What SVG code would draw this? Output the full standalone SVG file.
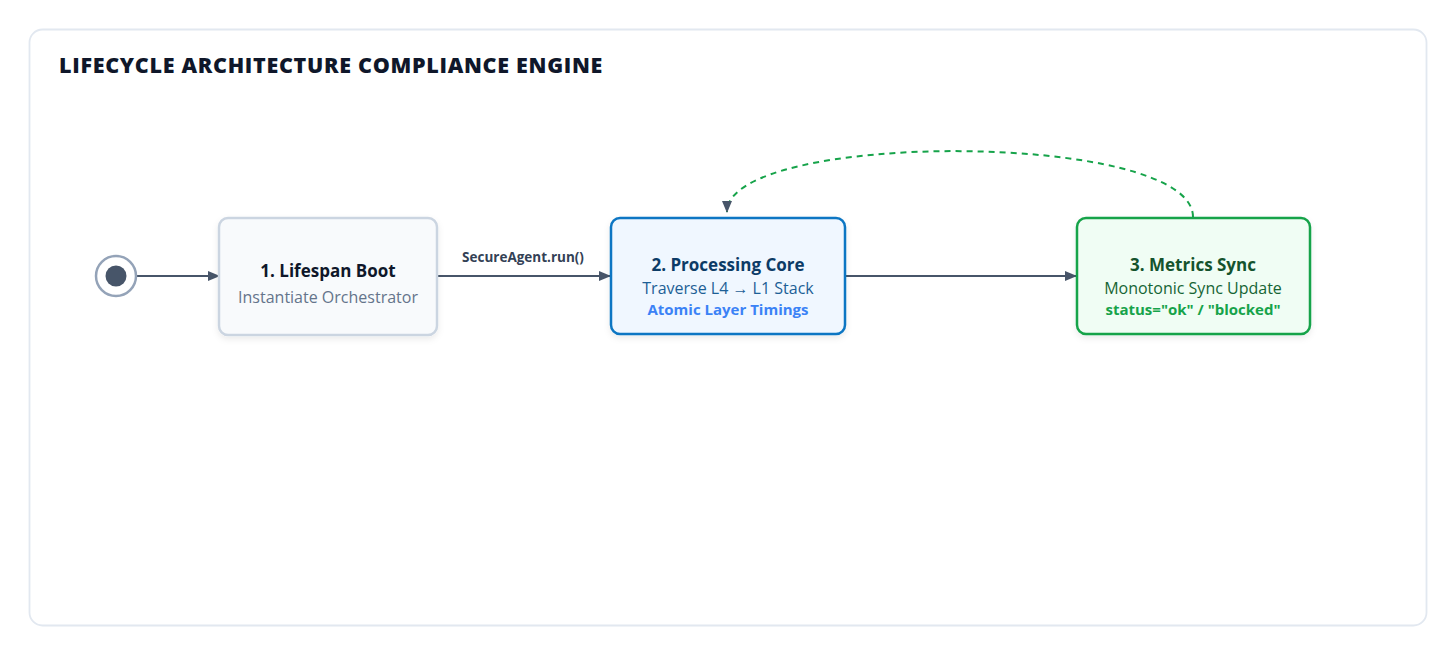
<svg xmlns="http://www.w3.org/2000/svg" width="1456" height="655" viewBox="0 0 1456 655">
<defs>
<style>
.t{font-family:"Open Sans","Noto Sans","Liberation Sans",sans-serif;text-anchor:middle}
.h{font-weight:700;font-size:17px}
.s{font-size:16px}
.b{font-weight:700;font-size:15px}
.edge{fill:none;stroke:#475569;stroke-width:2}
</style>
<marker id="arr" viewBox="0 0 12 10" refX="11" refY="5" markerWidth="12" markerHeight="10" markerUnits="userSpaceOnUse" orient="auto">
<path d="M0,0 L12,5 L0,10 Z" fill="#475569"/>
</marker>
<filter id="sh" x="-10%" y="-10%" width="120%" height="130%">
<feDropShadow dx="0" dy="3" stdDeviation="3" flood-color="#0f172a" flood-opacity="0.08"/>
</filter>
</defs>
<rect x="0" y="0" width="1456" height="655" fill="#ffffff"/>
<rect x="29.5" y="29.5" width="1397" height="596" rx="13" fill="#ffffff" stroke="#e2e8f0" stroke-width="1.8"/>
<text x="59" y="73" font-family="'Open Sans','Noto Sans',sans-serif" font-weight="800" font-size="21.5" fill="#0f172a" letter-spacing="0.7">LIFECYCLE ARCHITECTURE COMPLIANCE ENGINE</text>
<g id="connectors">
<line class="edge" x1="137" y1="276" x2="219" y2="276" marker-end="url(#arr)"/>
<line class="edge" x1="437" y1="276" x2="610" y2="276" marker-end="url(#arr)"/>
<text class="t" x="523" y="262" font-size="13.5" font-weight="700" fill="#334155">SecureAgent.run()</text>
<line class="edge" x1="845" y1="276" x2="1076" y2="276" marker-end="url(#arr)"/>
<path d="M1193,217 C1193,130 727,130 727,212" fill="none" stroke="#16a34a" stroke-width="2" stroke-dasharray="6,5" marker-end="url(#arr)"/>
</g>
<g id="start">
<circle cx="116" cy="276" r="20" fill="#ffffff" stroke="#94a3b8" stroke-width="2.5"/>
<circle cx="116" cy="276" r="10.5" fill="#475569"/>
</g>
<g id="node1">
<rect x="219" y="218" width="218" height="117" rx="9" fill="#f8fafc" stroke="#cbd5e1" stroke-width="2.5" filter="url(#sh)"/>
<text class="t h" x="328" y="277" fill="#0f172a">1. Lifespan Boot</text>
<text class="t s" x="328" y="303" fill="#64748b">Instantiate Orchestrator</text>
</g>
<g id="node2">
<rect x="611" y="218" width="234" height="116" rx="9" fill="#f0f7ff" stroke="#0b76c3" stroke-width="2.5" filter="url(#sh)"/>
<text class="t h" x="728" y="271" fill="#0c3b66">2. Processing Core</text>
<text class="t s" x="728" y="294" fill="#1d5f96">Traverse L4 → L1 Stack</text>
<text class="t b" x="728" y="315" fill="#3b82f6">Atomic Layer Timings</text>
</g>
<g id="node3">
<rect x="1077" y="218" width="233" height="116" rx="9" fill="#f0fdf4" stroke="#16a34a" stroke-width="2.5" filter="url(#sh)"/>
<text class="t h" x="1193" y="271" fill="#14532d">3. Metrics Sync</text>
<text class="t s" x="1193" y="294" fill="#166534">Monotonic Sync Update</text>
<text class="t b" x="1193" y="315" fill="#16a34a">status="ok" / "blocked"</text>
</g>
</svg>
